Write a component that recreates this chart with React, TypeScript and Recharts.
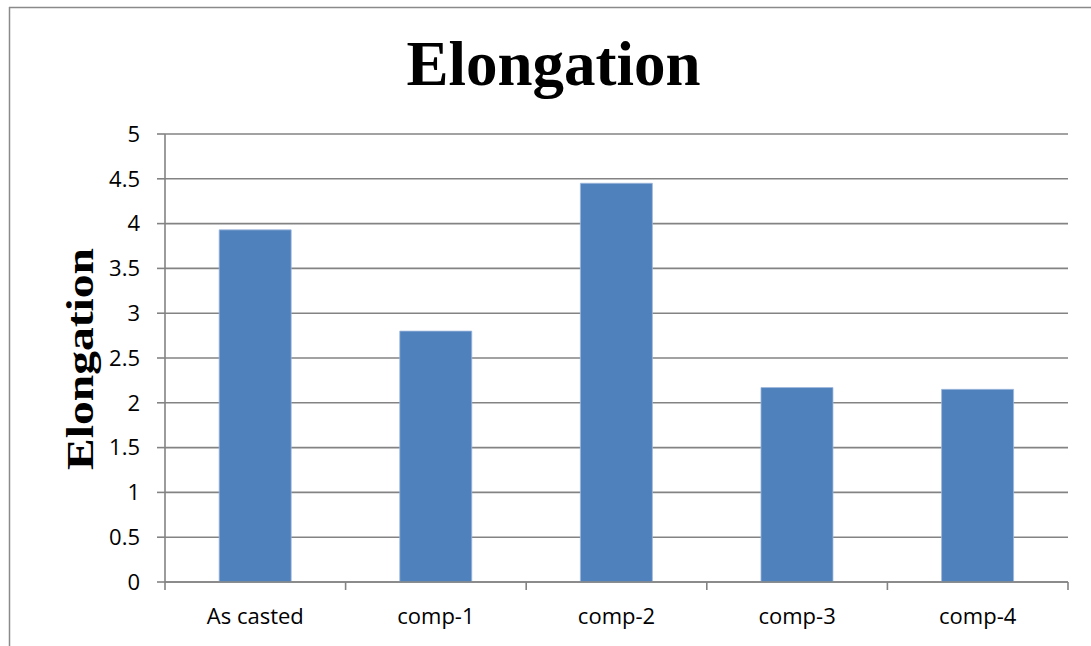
import React from "react";
import { BarChart, Bar, XAxis, YAxis, CartesianGrid } from "recharts";

const categories = ["As casted", "comp-1", "comp-2", "comp-3", "comp-4"];
const elongation = [3.93, 2.8, 4.45, 2.17, 2.15];
const yTicks = [0, 0.5, 1, 1.5, 2, 2.5, 3, 3.5, 4, 4.5, 5];

const data = categories.map((name, i) => ({ name, value: elongation[i] }));

const GRID = "#838383";
const TICK_FONT = "'Open Sans', sans-serif";

const XTick = (props: any) => {
  const { x, y, payload, width, index } = props;
  const band = width / categories.length;
  const left = payload.coordinate - band / 2;
  const right = payload.coordinate + band / 2;
  const axisY = y - 26;
  return (
    <g>
      <line x1={left} x2={left} y1={axisY} y2={axisY + 8} stroke={GRID} strokeWidth={1.6} />
      {index === categories.length - 1 && (
        <line x1={right} x2={right} y1={axisY} y2={axisY + 8} stroke={GRID} strokeWidth={1.6} />
      )}
      <text x={x} y={y} dy="0.71em" textAnchor="middle" fontSize={22} fontFamily={TICK_FONT} fill="#000">
        {payload.value}
      </text>
    </g>
  );
};

const YLabel = () => (
  <text
    x={93}
    y={359}
    transform="rotate(-90, 93, 359)"
    textAnchor="middle"
    fontSize={38}
    fontWeight="bold"
    fontFamily="'Liberation Serif', 'Times New Roman', serif"
    fill="#000"
    textLength={222}
    lengthAdjust="spacingAndGlyphs"
  >
    Elongation
  </text>
);

export default function App() {
  return (
    <div style={{ position: "absolute", left: 0, top: 0, width: 1091, height: 646, background: "#fff", overflow: "hidden" }}>
      <svg width={1091} height={646} style={{ position: "absolute", left: 0, top: 0 }}>
        <line x1={9.5} y1={7} x2={9.5} y2={646} stroke="#8a8a8a" strokeWidth={1.5} />
        <line x1={9} y1={7.5} x2={1091} y2={7.5} stroke="#8a8a8a" strokeWidth={1.5} />
        <text
          x={553.5}
          y={85}
          textAnchor="middle"
          fontSize={63}
          fontWeight="bold"
          fontFamily="'Liberation Serif', 'Times New Roman', serif"
          fill="#000"
        >
          Elongation
        </text>
      </svg>
      <div style={{ position: "absolute", left: 0, top: 0 }}>
        <BarChart
          width={1091}
          height={646}
          data={data}
          margin={{ top: 134, right: 23, bottom: 0, left: 65 }}
          barCategoryGap="30%"
        >
          <CartesianGrid vertical={false} stroke={GRID} strokeWidth={1.6} />
          <XAxis
            dataKey="name"
            height={64}
            axisLine={{ stroke: GRID, strokeWidth: 1.6 }}
            tickLine={false}
            tickSize={8}
            tickMargin={18}
            interval={0}
            tick={<XTick />}
          />
          <YAxis
            width={100}
            domain={[0, 5]}
            ticks={yTicks}
            interval={0}
            axisLine={{ stroke: GRID, strokeWidth: 1.6 }}
            tickLine={{ stroke: GRID, strokeWidth: 1.6 }}
            tickSize={8}
            tickMargin={17}
            tick={{ fontSize: 22, fontFamily: TICK_FONT, fill: "#000" }}
            label={{ content: () => <YLabel /> }}
          />
          <Bar dataKey="value" fill="#4F81BD" stroke="#9fb8dc" strokeWidth={0.8} isAnimationActive={false} />
        </BarChart>
      </div>
    </div>
  );
}
